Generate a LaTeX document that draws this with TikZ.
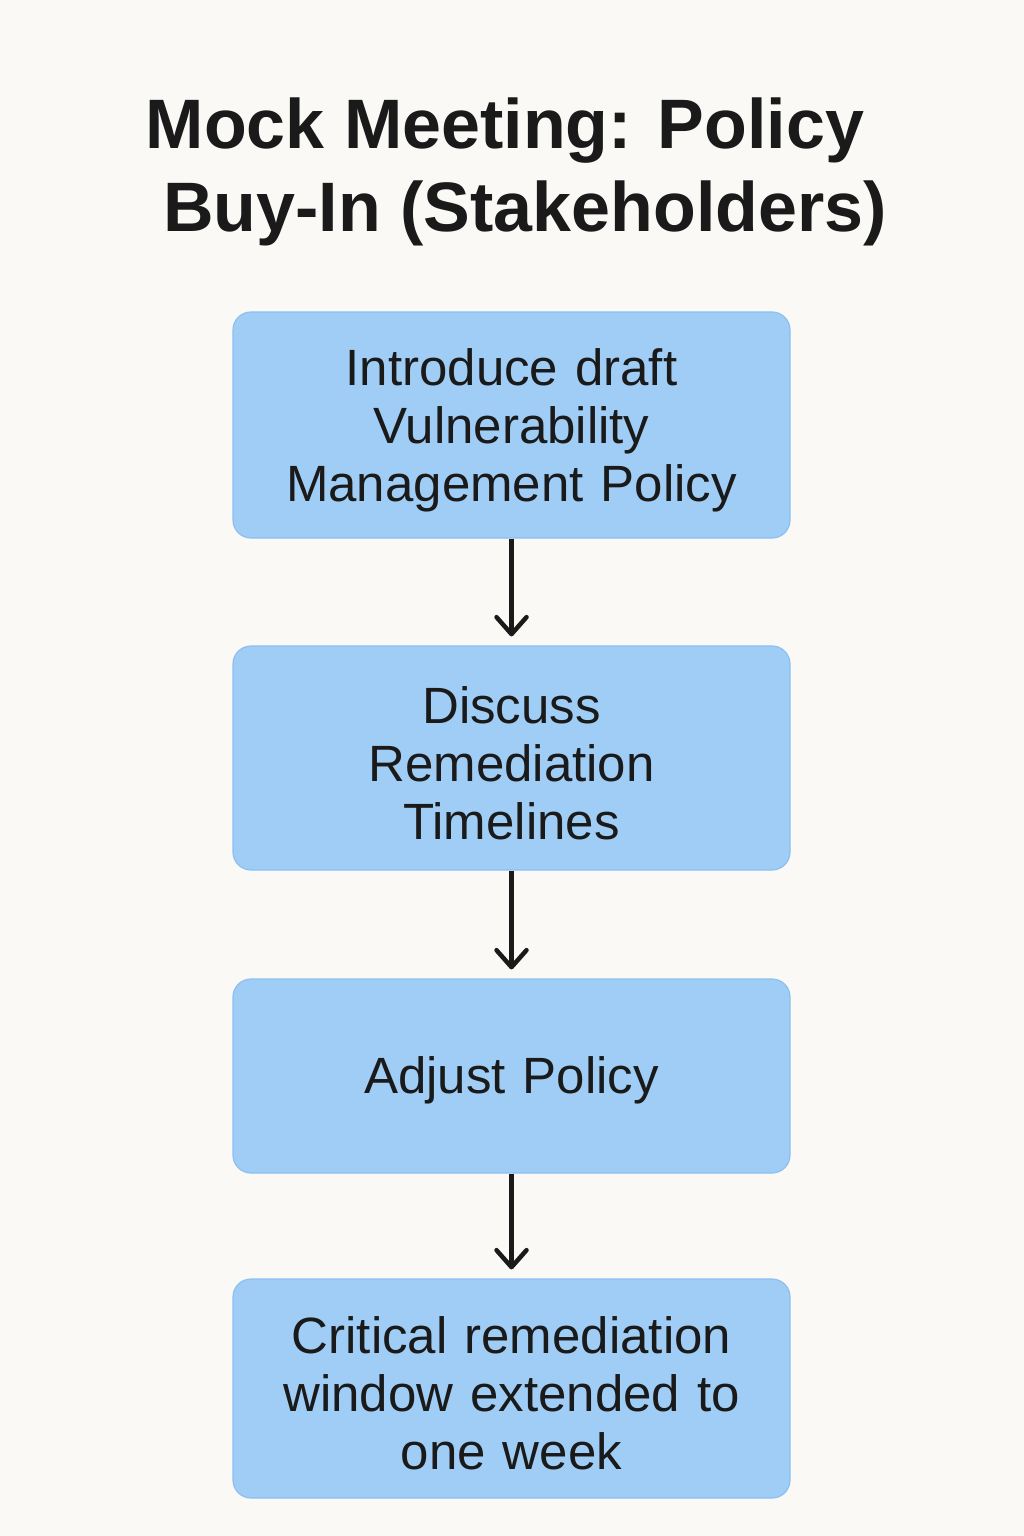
\documentclass[tikz,border=0pt]{standalone}
\usepackage{fontspec}
\setmainfont{Liberation Sans}
\usetikzlibrary{arrows.meta}
\definecolor{bgc}{HTML}{FAF9F5}
\definecolor{boxfill}{HTML}{A0CDF5}
\definecolor{boxline}{HTML}{8CC0F0}
\definecolor{ink}{HTML}{1A1A1A}
\tikzset{
  stepbox/.style={draw=boxline, line width=1.2pt, fill=boxfill, rounded corners=18pt,
    minimum width=557pt, inner sep=0pt},
  boxtext/.style={text width=540pt, align=center, inner sep=0pt,
    font=\fontsize{51}{58}\selectfont, text=ink},
  flowarrow/.style={draw=ink, line width=4.5pt, -{Straight Barb[length=17pt,width=30pt,line width=4.5pt 0,line cap=round,line join=round]}},
  titletext/.style={font=\fontsize{70}{82}\selectfont\bfseries, text=ink, align=center, inner sep=0pt}
}
\begin{document}
\begin{tikzpicture}[x=1pt,y=-1pt]
\fill[bgc] (0,0) rectangle (1024,1536);
\useasboundingbox (0,0) rectangle (1024,1536);
\node[titletext] (t1) at (505,131) {Mock Meeting: Policy};
\node[titletext] (t2) at (525,213) {Buy-In (Stakeholders)};
\node[stepbox, minimum height=226pt] (b1) at (511.5,425) {};
\node[boxtext] (l1) at ([yshift=-5pt]b1.center) {Introduce draft\\Vulnerability\\Management Policy};
\node[stepbox, minimum height=224pt] (b2) at (511.5,758) {};
\node[boxtext] (l2) at ([yshift=-5pt]b2.center) {Discuss\\Remediation\\Timelines};
\node[stepbox, minimum height=194pt] (b3) at (511.5,1076) {};
\node[boxtext] (l3) at ([yshift=-4pt]b3.center) {Adjust Policy};
\node[stepbox, minimum height=219pt] (b4) at (511.5,1388.5) {};
\node[boxtext] (l4) at ([yshift=-5pt]b4.center) {Critical remediation\\window extended to\\one week};
\draw[flowarrow] (b1.south) -- ([yshift=9pt]b2.north);
\draw[flowarrow] (b2.south) -- ([yshift=9pt]b3.north);
\draw[flowarrow] (b3.south) -- ([yshift=9pt]b4.north);
\end{tikzpicture}
\end{document}
